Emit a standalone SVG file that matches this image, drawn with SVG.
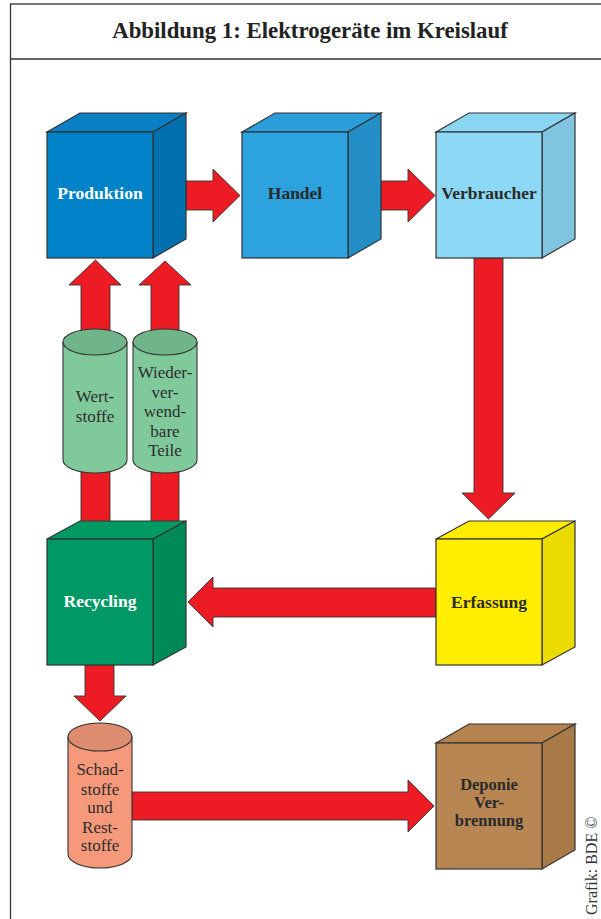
<svg xmlns="http://www.w3.org/2000/svg" width="601" height="919" viewBox="0 0 601 919">
<style>
.frame{fill:none;stroke:#333;stroke-width:1.3}
.arr{fill:#ed1c24;stroke:#333;stroke-width:0.9;stroke-linejoin:miter}
.cube{stroke:#333;stroke-width:1.2;stroke-linejoin:miter}
.cyl{stroke:#333;stroke-width:1.1}
.lbl{font-family:"Liberation Serif","Times New Roman",serif;font-weight:bold;font-size:17.5px;text-anchor:middle}
.lbl2{font-family:"Liberation Serif","Times New Roman",serif;font-weight:bold;font-size:16.5px;text-anchor:middle}
.ctxt{font-family:"Liberation Serif","Times New Roman",serif;font-size:17px;text-anchor:middle;fill:#2d2d2d}
.title{font-family:"Liberation Serif","Times New Roman",serif;font-weight:bold;font-size:22.8px;text-anchor:middle;fill:#222}
</style>
<rect width="601" height="919" fill="#fff"/>
<rect class="frame" x="10.5" y="4" width="620" height="940"/>
<line class="frame" x1="10.5" y1="59" x2="601" y2="59"/>
<text class="title" x="310" y="38">Abbildung 1: Elektrogeräte im Kreislauf</text>

<g id="connectors">
<polygon class="arr" points="186,181 213,181 213,169 240,195.5 213,222 213,210 186,210"/>
<polygon class="arr" points="381,181 408,181 408,169 435,195.5 408,222 408,210 381,210"/>
<polygon class="arr" points="474,258 474,493 462,493 488.5,519 515,493 503,493 503,258"/>
<polygon class="arr" points="436,588 213,588 213,577 188,602 213,627 213,617 436,617"/>
<polygon class="arr" points="85,665 85,696 74,696 100,721 126,696 114,696 114,665"/>
<polygon class="arr" points="132,792 408,792 408,780 434,806 408,832 408,820 132,820"/>
<polygon class="arr" points="81,522 81,285 69,285 95.5,260 121,285 110,285 110,522"/>
<polygon class="arr" points="151,522 151,285 139,285 165,261 191,285 179,285 179,522"/>
</g>

<g id="produktion">
<polygon class="cube" fill="#0a7fc4" points="47,132 80,113 186,113 153,132"/>
<polygon class="cube" fill="#0070ae" points="153,132 186,113 186,239 153,258"/>
<rect class="cube" fill="#0082c8" x="47" y="132" width="106" height="126"/>
<text class="lbl" x="100" y="199" fill="#fff">Produktion</text>
</g>

<g id="handel">
<polygon class="cube" fill="#2a9ddb" points="242,132 275,113 381,113 348,132"/>
<polygon class="cube" fill="#248ec6" points="348,132 381,113 381,239 348,258"/>
<rect class="cube" fill="#2ca2de" x="242" y="132" width="106" height="126"/>
<text class="lbl" x="295" y="199" fill="#2a2a2a">Handel</text>
</g>

<g id="verbraucher">
<polygon class="cube" fill="#8ad6f3" points="436,132 469,113 575,113 542,132"/>
<polygon class="cube" fill="#7fc4e1" points="542,132 575,113 575,239 542,258"/>
<rect class="cube" fill="#8cd8f5" x="436" y="132" width="106" height="126"/>
<text class="lbl" x="489" y="199" fill="#2a2a2a">Verbraucher</text>
</g>

<g id="wertstoffe">
<path class="cyl" fill="#80c99b" d="M63,342 L63,460 A32,13 0 0 0 127,460 L127,342 Z"/>
<ellipse class="cyl" fill="#70b48a" cx="95" cy="342" rx="32" ry="13"/>
<text class="ctxt" x="95" y="402">Wert-</text>
<text class="ctxt" x="95" y="422">stoffe</text>
</g>

<g id="wiederverwendbare-teile">
<path class="cyl" fill="#80c99b" d="M133,342 L133,460 A32,13 0 0 0 197,460 L197,342 Z"/>
<ellipse class="cyl" fill="#70b48a" cx="165" cy="342" rx="32" ry="13"/>
<text class="ctxt" x="165" y="378">Wieder-</text>
<text class="ctxt" x="165" y="398">ver-</text>
<text class="ctxt" x="165" y="417">wend-</text>
<text class="ctxt" x="165" y="437">bare</text>
<text class="ctxt" x="165" y="456">Teile</text>
</g>

<g id="recycling">
<polygon class="cube" fill="#009a62" points="47,539 80,521 186,521 153,539"/>
<polygon class="cube" fill="#008a58" points="153,539 186,521 186,647 153,665"/>
<rect class="cube" fill="#009966" x="47" y="539" width="106" height="126"/>
<text class="lbl" x="100" y="607" fill="#fff">Recycling</text>
</g>

<g id="erfassung">
<polygon class="cube" fill="#ffec00" points="436,539 469,521 575,521 542,539"/>
<polygon class="cube" fill="#ecdb00" points="542,539 575,521 575,647 542,665"/>
<rect class="cube" fill="#ffee00" x="436" y="539" width="106" height="126"/>
<text class="lbl" x="489" y="608" fill="#2a2a2a">Erfassung</text>
</g>

<g id="schadstoffe">
<path class="cyl" fill="#f5997a" d="M68,737 L68,854 A32,14 0 0 0 132,854 L132,737 Z"/>
<ellipse class="cyl" fill="#de8c70" cx="100" cy="737" rx="32" ry="14"/>
<text class="ctxt" x="100" y="775">Schad-</text>
<text class="ctxt" x="100" y="795">stoffe</text>
<text class="ctxt" x="100" y="813">und</text>
<text class="ctxt" x="100" y="833">Rest-</text>
<text class="ctxt" x="100" y="851">stoffe</text>
</g>

<g id="deponie">
<polygon class="cube" fill="#b5834f" points="436,743 469,724 575,724 542,743"/>
<polygon class="cube" fill="#a77a48" points="542,743 575,724 575,850 542,869"/>
<rect class="cube" fill="#b88652" x="436" y="743" width="106" height="126"/>
<text class="lbl2" x="489" y="790" fill="#2a2a2a">Deponie</text>
<text class="lbl2" x="489" y="808" fill="#2a2a2a">Ver-</text>
<text class="lbl2" x="489" y="826" fill="#2a2a2a">brennung</text>
</g>

<text transform="translate(597,915) rotate(-90)" font-family="'Liberation Serif','Times New Roman',serif" font-size="16" fill="#333">Grafik: BDE ©</text>
</svg>
